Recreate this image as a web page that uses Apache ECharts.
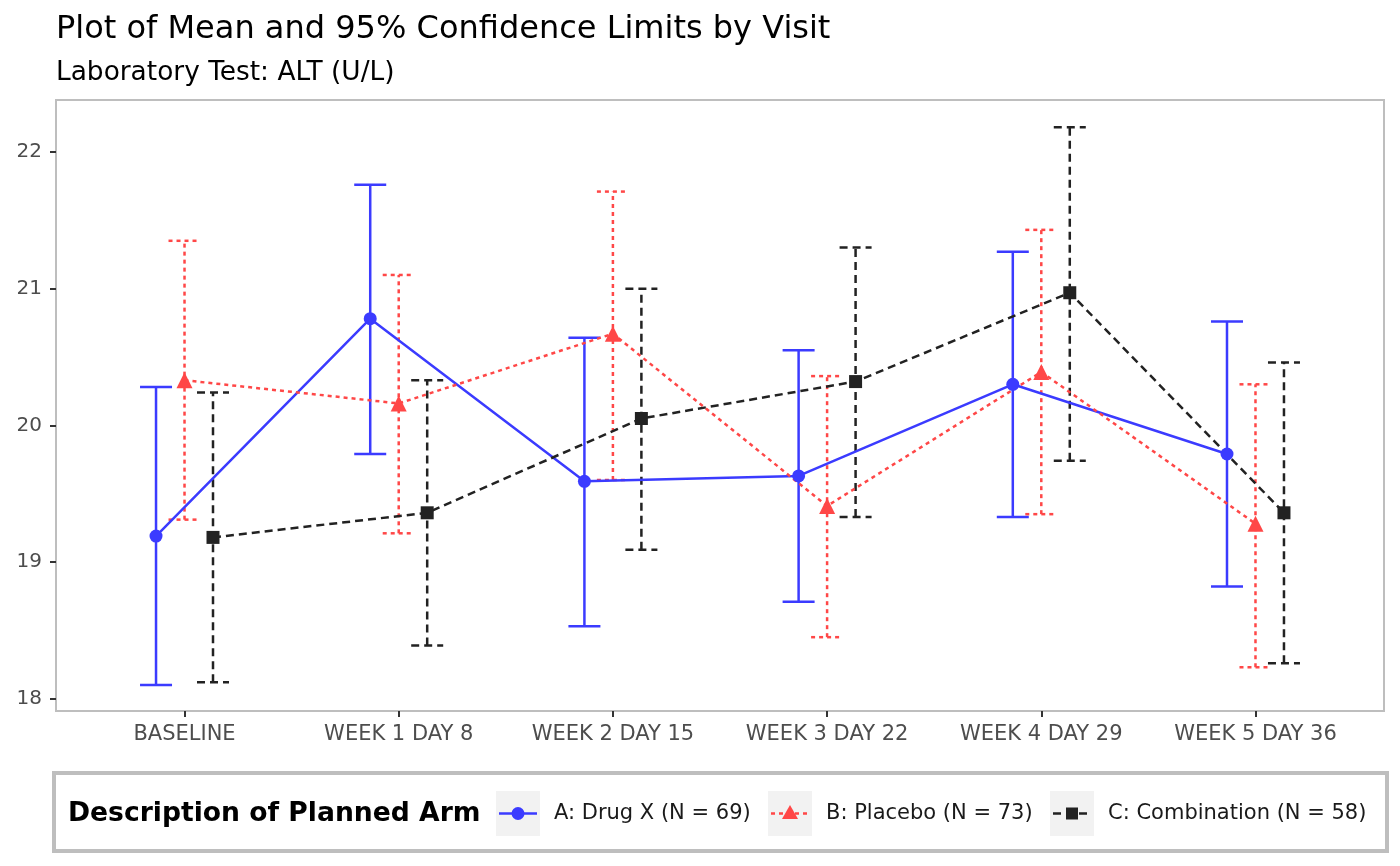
<!DOCTYPE html>
<html>
<head>
<meta charset="utf-8">
<script src="https://cdn.jsdelivr.net/npm/echarts@6/dist/echarts.min.js"></script>
<style>html,body{margin:0;padding:0;background:#fff}#c{width:1400px;height:866px}</style>
</head>
<body>
<div id="c"></div>
<script>
const visits = ['BASELINE','WEEK 1 DAY 8','WEEK 2 DAY 15','WEEK 3 DAY 22','WEEK 4 DAY 29','WEEK 5 DAY 36'];
const armNames = ['A: Drug X (N = 69)','B: Placebo (N = 73)','C: Combination (N = 58)'];
const meanA = [19.19, 20.78, 19.59, 19.63, 20.30, 19.79];
const lowA  = [18.10, 19.79, 18.53, 18.71, 19.33, 18.82];
const highA = [20.28, 21.76, 20.64, 20.55, 21.27, 20.76];
const meanB = [20.33, 20.16, 20.67, 19.41, 20.39, 19.28];
const lowB  = [19.31, 19.21, 19.60, 18.45, 19.35, 18.23];
const highB = [21.35, 21.10, 21.71, 20.36, 21.43, 20.30];
const meanC = [19.18, 19.36, 20.05, 20.32, 20.97, 19.36];
const lowC  = [18.12, 18.39, 19.09, 19.33, 19.74, 18.26];
const highC = [20.24, 20.33, 21.00, 21.30, 22.18, 20.46];
const yTicks = [18, 19, 20, 21, 22];

const colors = ['#3b3bff', '#ff4747', '#222222'];
const dashes = [null, [4, 4], [8, 5]];
const symbols = ['circle', 'triangle', 'rect'];
const symSizes = [13, 16, 13];
const dodge = [-0.133, 0, 0.133];
const means = [meanA, meanB, meanC];
const lows = [lowA, lowB, lowC];
const highs = [highA, highB, highC];
const LW = 2.5;

function errRender(color, dash) {
  return function (params, api) {
    const x = api.value(0), lo = api.value(1), hi = api.value(2);
    const pLo = api.coord([x, lo]), pHi = api.coord([x, hi]);
    const cw = 16;
    const st = { stroke: color, lineWidth: LW, lineDash: dash || 'solid', fill: null };
    return {
      type: 'group',
      children: [
        { type: 'line', shape: { x1: pLo[0], y1: pLo[1], x2: pHi[0], y2: pHi[1] }, style: st },
        { type: 'line', shape: { x1: pLo[0] - cw, y1: pLo[1], x2: pLo[0] + cw, y2: pLo[1] }, style: st },
        { type: 'line', shape: { x1: pHi[0] - cw, y1: pHi[1], x2: pHi[0] + cw, y2: pHi[1] }, style: st }
      ]
    };
  };
}

const series = [];
for (let k = 0; k < 3; k++) {
  series.push({
    type: 'custom',
    name: armNames[k] + ' CI',
    renderItem: errRender(colors[k], dashes[k]),
    data: visits.map((v, i) => [i + 1 + dodge[k], lows[k][i], highs[k][i]]),
    encode: { x: 0, y: [1, 2] },
    z: 2,
    silent: true
  });
}
for (let k = 0; k < 3; k++) {
  series.push({
    type: 'line',
    name: armNames[k],
    data: visits.map((v, i) => [i + 1 + dodge[k], means[k][i]]),
    symbol: symbols[k],
    symbolSize: symSizes[k],
    showAllSymbol: true,
    lineStyle: { color: colors[k], width: LW, type: dashes[k] || 'solid' },
    itemStyle: { color: colors[k] },
    z: 3,
    silent: true,
    animation: false
  });
}

// legend graphics
const legendGraphics = [
  { type: 'rect', shape: { x: 54, y: 773, width: 1333, height: 78 }, style: { fill: '#fff', stroke: '#bebebe', lineWidth: 4 } },
  { type: 'text', x: 68, y: 814, style: { text: 'Description of Planned Arm', font: 'bold 26.6px "DejaVu Sans"', fill: '#000', verticalAlign: 'middle' } }
];
const keyX = [496, 768, 1050];
for (let k = 0; k < 3; k++) {
  const kx = keyX[k];
  legendGraphics.push({ type: 'rect', shape: { x: kx, y: 791, width: 44, height: 45 }, style: { fill: '#f2f2f2' } });
  legendGraphics.push({ type: 'line', shape: { x1: kx + 3, y1: 813.5, x2: kx + 41, y2: 813.5 }, style: { stroke: colors[k], lineWidth: LW, lineDash: dashes[k] || null } });
  let sym;
  if (k === 0) sym = { type: 'circle', shape: { cx: kx + 22, cy: 813.5, r: 6.5 }, style: { fill: colors[k] } };
  else if (k === 1) sym = { type: 'polygon', shape: { points: [[kx + 22, 805], [kx + 30, 819], [kx + 14, 819]] }, style: { fill: colors[k] } };
  else sym = { type: 'rect', shape: { x: kx + 16, y: 807.5, width: 12, height: 12 }, style: { fill: colors[k] } };
  legendGraphics.push(sym);
  legendGraphics.push({ type: 'text', x: kx + 58, y: 814, style: { text: armNames[k], font: '21px "DejaVu Sans"', fill: '#1a1a1a', verticalAlign: 'middle' } });
}

const chart = echarts.init(document.getElementById('c'), null, { renderer: 'canvas' });
chart.setOption({
  animation: false,
  backgroundColor: '#fff',
  textStyle: { fontFamily: 'DejaVu Sans' },
  title: [
    {
      text: 'Plot of Mean and 95% Confidence Limits by Visit',
      left: 51, top: 9,
      textStyle: { fontFamily: 'DejaVu Sans', fontSize: 32, lineHeight: 32, fontWeight: 'normal', color: '#000' }
    },
    {
      text: 'Laboratory Test: ALT (U/L)',
      left: 51, top: 54,
      textStyle: { fontFamily: 'DejaVu Sans', fontSize: 26.4, lineHeight: 28, fontWeight: 'normal', color: '#000' }
    }
  ],
  grid: { left: 56, right: 16, top: 100, bottom: 155, show: true, borderColor: '#bebebe', borderWidth: 2, backgroundColor: '#fff' },
  xAxis: {
    type: 'value', min: 0.4, max: 6.6,
    axisLine: { show: false },
    splitLine: { show: false },
    axisTick: { show: true, length: 6, lineStyle: { color: '#333', width: 2 }, customValues: [1, 2, 3, 4, 5, 6] },
    axisLabel: { customValues: [1, 2, 3, 4, 5, 6], formatter: v => visits[Math.round(v) - 1], color: '#4d4d4d', fontSize: 21, margin: 13, fontFamily: 'DejaVu Sans' }
  },
  yAxis: {
    type: 'value', min: 17.91, max: 22.38,
    axisLine: { show: false },
    splitLine: { show: false },
    axisTick: { show: true, length: 6, lineStyle: { color: '#333', width: 2 }, customValues: yTicks },
    axisLabel: { customValues: yTicks, color: '#4d4d4d', fontSize: 20, margin: 14, fontFamily: 'DejaVu Sans' }
  },
  graphic: legendGraphics,
  series: series
});
</script>
</body>
</html>
